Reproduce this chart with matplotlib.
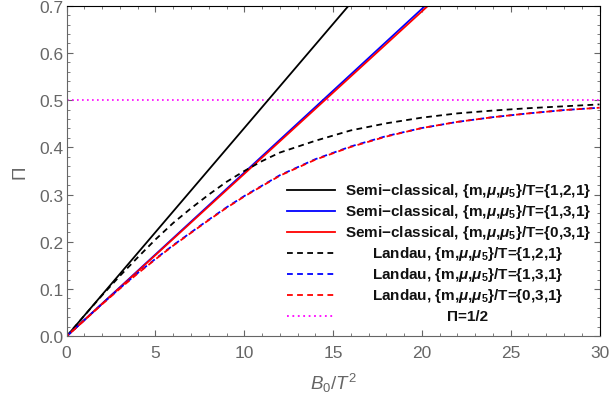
import matplotlib
matplotlib.use('Agg')
import matplotlib.pyplot as plt
from matplotlib.ticker import MultipleLocator

plt.rcParams['font.family'] = ['Liberation Sans', 'DejaVu Sans']
plt.rcParams['mathtext.fontset'] = 'custom'
plt.rcParams['mathtext.rm'] = 'Liberation Sans'
plt.rcParams['mathtext.it'] = 'Liberation Sans:italic'
plt.rcParams['mathtext.bf'] = 'Liberation Sans:bold'
plt.rcParams['mathtext.bfit'] = 'Liberation Sans:italic:bold'

# semi-classical (straight lines)
x_semi = [0, 30]
semi_121 = [0, 1.323]
semi_131 = [0, 1.040]
semi_031 = [0, 1.032]

# Landau curves
x_landau = [0, 1, 2, 3, 4, 5, 6, 7, 8, 9, 10, 11, 12, 14, 16, 18, 20, 22, 24, 26, 28, 30]
landau_121 = [0, 0.044, 0.087, 0.128, 0.167, 0.205, 0.240, 0.271, 0.300, 0.327, 0.350,
              0.371, 0.389, 0.414, 0.436, 0.451, 0.463, 0.472, 0.478, 0.483, 0.487, 0.491]
landau_131 = [0, 0.0345, 0.069, 0.102, 0.134, 0.164, 0.193, 0.220, 0.247, 0.273, 0.297,
              0.319, 0.341, 0.375, 0.402, 0.424, 0.441, 0.454, 0.464, 0.472, 0.479, 0.484]
landau_031 = [0, 0.034, 0.068, 0.101, 0.133, 0.163, 0.192, 0.219, 0.246, 0.272, 0.296,
              0.318, 0.340, 0.374, 0.401, 0.423, 0.441, 0.454, 0.464, 0.472, 0.479, 0.484]
half = 0.5

mu = r'$\mathbfit{\mu}$'
mu5 = r'$\mathbfit{\mu}_{\mathbf{5}}$'
labels = ['Semi\u2212classical, {m,' + mu + ',' + mu5 + '}/T={1,2,1}',
          'Semi\u2212classical, {m,' + mu + ',' + mu5 + '}/T={1,3,1}',
          'Semi\u2212classical, {m,' + mu + ',' + mu5 + '}/T={0,3,1}',
          'Landau, {m,' + mu + ',' + mu5 + '}/T={1,2,1}',
          'Landau, {m,' + mu + ',' + mu5 + '}/T={1,3,1}',
          'Landau, {m,' + mu + ',' + mu5 + '}/T={0,3,1}',
          '\u03a0=1/2']

GRAY = '#666666'
fig = plt.figure(figsize=(6.1, 4.02), dpi=100)
ax = fig.add_axes([0.1093, 0.161, 0.8735, 0.8223])

lw = 1.3
dash = (0, (3.2, 2.4))
ax.axhline(half, color='#FF00FF', lw=1.2, ls=(0, (1, 2)))
ax.plot(x_semi, semi_121, color='black', lw=lw)
ax.plot(x_semi, semi_131, color='#0000FF', lw=lw)
ax.plot(x_semi, semi_031, color='#FF0000', lw=lw)
ax.plot(x_landau, landau_121, color='black', lw=lw, ls=dash)
ax.plot(x_landau, landau_131, color='#0000FF', lw=lw, ls=dash)
ax.plot(x_landau, landau_031, color='#FF0000', lw=lw, ls=(1.5, (3.2, 2.4)))

ax.set_xlim(0, 30)
ax.set_ylim(0, 0.7)
ax.xaxis.set_major_locator(MultipleLocator(5))
ax.xaxis.set_minor_locator(MultipleLocator(1))
ax.yaxis.set_major_locator(MultipleLocator(0.1))
ax.yaxis.set_minor_locator(MultipleLocator(0.02))
ax.yaxis.set_major_formatter(plt.FuncFormatter(lambda v, p: f'{v:.1f}'))
ax.tick_params(which='both', direction='in', top=True, right=True,
               colors=GRAY, labelcolor=GRAY, labelsize=12.5)
ax.tick_params(which='major', length=4, width=0.8)
ax.tick_params(which='minor', length=2.2, width=0.6)
ax.tick_params(axis='x', pad=6)
ax.tick_params(axis='y', pad=2)
for s in ['left', 'bottom']:
    ax.spines[s].set_color(GRAY)
for s in ['top', 'right']:
    ax.spines[s].set_color('black')

ax.set_xlabel(r'$B_0/T^2$', fontsize=13.5, color=GRAY, labelpad=8)
ax.set_ylabel('\u03a0', fontsize=13.5, color=GRAY, labelpad=8)

# legend drawn by hand: handle on the left, centered bold text
styles = [('black', '-'), ('#0000FF', '-'), ('#FF0000', '-'),
          ('black', dash), ('#0000FF', dash), ('#FF0000', dash),
          ('#FF00FF', (0, (1, 2)))]
y0, dy = 0.441, 0.0632
for i, (lab, (c, ls)) in enumerate(zip(labels, styles)):
    yy = y0 - i * dy
    ax.plot([0.4135, 0.5036], [yy, yy], transform=ax.transAxes, color=c,
            ls=ls, lw=lw, clip_on=False)
    ax.text(0.753, yy, lab, transform=ax.transAxes, ha='center', va='center',
            fontsize=11, fontweight='bold', color='#111111')

fig.savefig('out.png', dpi=100, facecolor='white')
